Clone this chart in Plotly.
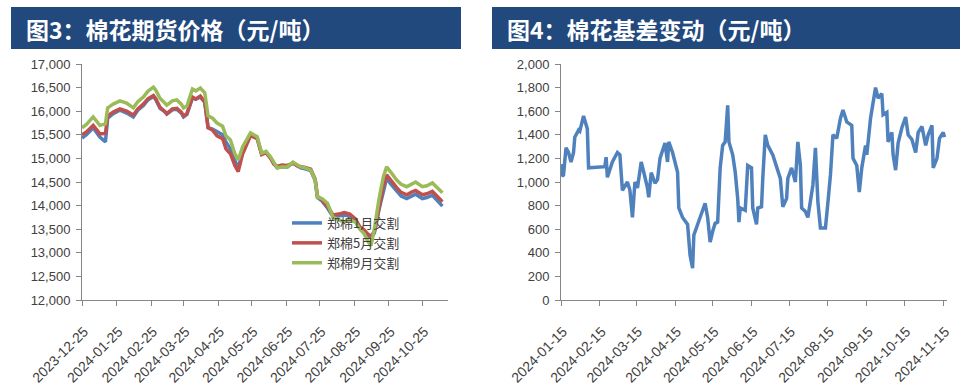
import plotly.graph_objects as go

W, H = 976, 385

# ---------------- data: 棉花期货价格 ----------------
price_dates = [
    "2023-12-25", "2023-12-29", "2024-01-04", "2024-01-07", "2024-01-10", "2024-01-15", "2024-01-17", "2024-01-22", "2024-01-28",
    "2024-02-03", "2024-02-09", "2024-02-13", "2024-02-18", "2024-02-22", "2024-02-27", "2024-02-29",
    "2024-03-04", "2024-03-08", "2024-03-10", "2024-03-15", "2024-03-19", "2024-03-23", "2024-03-25", "2024-03-28", "2024-03-31",
    "2024-04-02", "2024-04-05", "2024-04-09", "2024-04-13", "2024-04-16", "2024-04-20", "2024-04-24", "2024-04-29",
    "2024-05-02", "2024-05-06", "2024-05-10", "2024-05-13", "2024-05-17", "2024-05-24", "2024-05-30",
    "2024-06-03", "2024-06-07", "2024-06-11", "2024-06-14", "2024-06-17", "2024-06-21", "2024-06-26",
    "2024-07-01", "2024-07-05", "2024-07-08", "2024-07-12", "2024-07-17", "2024-07-21", "2024-07-23", "2024-07-27",
    "2024-08-01", "2024-08-06", "2024-08-11", "2024-08-16", "2024-08-21", "2024-08-26", "2024-08-30",
    "2024-09-03", "2024-09-06", "2024-09-09", "2024-09-12", "2024-09-16", "2024-09-20", "2024-09-23", "2024-09-27",
    "2024-10-02", "2024-10-06", "2024-10-11", "2024-10-15", "2024-10-19", "2024-10-25", "2024-10-29",
    "2024-11-03", "2024-11-07", "2024-11-12",
]
zc_jan = [  # 郑棉1月交割
    15430, 15500, 15650, 15560, 15450, 15350, 15850, 15950, 16020,
    15960, 15880, 16020, 16120, 16240, 16310, 16250,
    16060, 15990, 15940, 16030, 16040, 15960, 15880, 15930, 16170,
    16280, 16250, 16300, 16190, 15650, 15620, 15560, 15500,
    15350, 15200, 14950, 14800, 15150, 15500, 15430,
    15090, 15130, 15010, 14880, 14800, 14820, 14820,
    14900, 14830, 14800, 14780, 14740, 14530, 14170, 14100,
    13950, 13760, 13780, 13800, 13780, 13680, 13520,
    13450, 13380, 13320, 13420, 13900, 14330, 14580, 14450,
    14300, 14200, 14150, 14200, 14240, 14150, 14170,
    14220, 14120, 13990,
]
zc_may = [  # 郑棉5月交割
    15500, 15560, 15700, 15620, 15520, 15530, 15900, 15980, 16050,
    16000, 15920, 16050, 16150, 16260, 16330, 16270,
    16080, 16000, 15950, 16050, 16060, 15980, 15900, 15950, 16180,
    16300, 16260, 16320, 16200, 15650, 15600, 15480, 15420,
    15200, 15100, 14850, 14720, 15100, 15480, 15420,
    15080, 15120, 15000, 14880, 14830, 14860, 14850,
    14900, 14840, 14830, 14810, 14770, 14560, 14200, 14120,
    13980, 13800, 13820, 13850, 13820, 13720, 13550,
    13480, 13400, 13350, 13450, 13950, 14400, 14650, 14520,
    14380, 14280, 14230, 14280, 14320, 14230, 14250,
    14300, 14200, 14080,
]
zc_sep = [  # 郑棉9月交割
    15650, 15720, 15880, 15800, 15700, 15730, 16070, 16150, 16220,
    16170, 16070, 16200, 16300, 16420, 16510, 16450,
    16270, 16180, 16130, 16220, 16240, 16150, 16070, 16110, 16350,
    16470, 16430, 16490, 16390, 15900, 15850, 15750, 15680,
    15480, 15390, 15100, 14970, 15250, 15540, 15460,
    15110, 15150, 15030, 14900, 14800, 14820, 14820,
    14920, 14850, 14820, 14800, 14750, 14540, 14180, 14150,
    14050, 13750, 13700, 13650, 13700, 13650, 13500,
    13400, 13250, 13150, 13500, 14120, 14600, 14820, 14700,
    14540, 14450, 14400, 14450, 14500, 14400, 14420,
    14480, 14380, 14270,
]
price_names = ["郑棉1月交割", "郑棉5月交割", "郑棉9月交割"]
price_ticks = ["2023-12-25", "2024-01-25", "2024-02-25", "2024-03-25", "2024-04-25", "2024-05-25",
               "2024-06-25", "2024-07-25", "2024-08-25", "2024-09-25", "2024-10-25"]

# ---------------- data: 棉花基差 ----------------
basis_dates = [
    "2024-01-15", "2024-01-16", "2024-01-17", "2024-01-19", "2024-01-21", "2024-01-23", "2024-01-25", "2024-01-26",
    "2024-01-29", "2024-01-30", "2024-02-02", "2024-02-05", "2024-02-06", "2024-02-19", "2024-02-20", "2024-02-21",
    "2024-02-25", "2024-02-29", "2024-03-02", "2024-03-04", "2024-03-08", "2024-03-10", "2024-03-12", "2024-03-14",
    "2024-03-16", "2024-03-19", "2024-03-21", "2024-03-24", "2024-03-25", "2024-03-27", "2024-03-30", "2024-04-01",
    "2024-04-03", "2024-04-07", "2024-04-09", "2024-04-10", "2024-04-13", "2024-04-17", "2024-04-18", "2024-04-21",
    "2024-04-25", "2024-04-27", "2024-04-29", "2024-04-30", "2024-05-03", "2024-05-07", "2024-05-09", "2024-05-11",
    "2024-05-13", "2024-05-15", "2024-05-17", "2024-05-19", "2024-05-21", "2024-05-23", "2024-05-25", "2024-05-27",
    "2024-05-28", "2024-05-31", "2024-06-02", "2024-06-04", "2024-06-05", "2024-06-06", "2024-06-10", "2024-06-12",
    "2024-06-15", "2024-06-16", "2024-06-19", "2024-06-20", "2024-06-23", "2024-06-24", "2024-06-26", "2024-06-28",
    "2024-07-02", "2024-07-08", "2024-07-10", "2024-07-13", "2024-07-14", "2024-07-17", "2024-07-20", "2024-07-22",
    "2024-07-24", "2024-07-25", "2024-07-28", "2024-07-30", "2024-08-01", "2024-08-03", "2024-08-05", "2024-08-06",
    "2024-08-07", "2024-08-09", "2024-08-13", "2024-08-15", "2024-08-17", "2024-08-19", "2024-08-22", "2024-08-25",
    "2024-08-27", "2024-08-30", "2024-09-03", "2024-09-04", "2024-09-07", "2024-09-09", "2024-09-11", "2024-09-14",
    "2024-09-15", "2024-09-18", "2024-09-20", "2024-09-22", "2024-09-24", "2024-09-27", "2024-09-28", "2024-10-01",
    "2024-10-02", "2024-10-05", "2024-10-06", "2024-10-08", "2024-10-10", "2024-10-13", "2024-10-16", "2024-10-18",
    "2024-10-21", "2024-10-24", "2024-10-26", "2024-10-29", "2024-11-01", "2024-11-03", "2024-11-06", "2024-11-07",
    "2024-11-10", "2024-11-12", "2024-11-15", "2024-11-16",
]
basis_values = [
    1150, 1050, 1060, 1290, 1250, 1170, 1250, 1380,
    1440, 1430, 1560, 1450, 1120, 1130, 1210, 1040,
    1170, 1250, 1230, 930, 1000, 930, 700, 1000,
    950, 1170, 1085, 950, 870, 1080, 990, 1020,
    1200, 1330, 1170, 1340, 1250, 1085, 780, 700,
    640, 380, 270, 550, 640, 750, 820, 700,
    490, 580, 650, 660, 1120, 1310, 1340, 1650,
    1340, 1230, 1085, 860, 660, 780, 760, 1140,
    1120, 780, 640, 780, 790, 1030, 1400, 1310,
    1230, 1030, 790, 860, 1030, 1120, 1000, 1340,
    1140, 780, 750, 700, 860, 975, 1290, 1060,
    830, 610, 610, 830, 1060, 1400, 1370, 1540,
    1610, 1510, 1480, 1200, 1140, 915, 1120, 1310,
    1230, 1540, 1680, 1800, 1710, 1750, 1570, 1590,
    1340, 1420, 1230, 1100, 1330, 1460, 1550, 1400,
    1360, 1250, 1420, 1470, 1310, 1400, 1480, 1120,
    1200, 1370, 1420, 1380,
]
basis_ticks = ["2024-01-15", "2024-02-15", "2024-03-15", "2024-04-15", "2024-05-15", "2024-06-15",
               "2024-07-15", "2024-08-15", "2024-09-15", "2024-10-15", "2024-11-15"]

titles = ["图3：棉花期货价格（元/吨）", "图4：棉花基差变动（元/吨）"]

# ---------------- styles ----------------
BLUE, RED, GREEN = "#4F81BD", "#C0504D", "#9BBB59"
BAR = "#22497E"
AXIS = "#868686"
TXT = "#404040"
FONT = "Liberation Sans, Arial, sans-serif"

def px_x(p):
    return p / W

def px_y(p):
    return 1 - p / H

fig = go.Figure()
for vals, name, col in zip([zc_jan, zc_may, zc_sep], price_names, [BLUE, RED, GREEN]):
    fig.add_trace(go.Scatter(x=price_dates, y=vals, name=name, mode="lines",
                             line=dict(color=col, width=3.5), xaxis="x", yaxis="y"))
fig.add_trace(go.Scatter(x=basis_dates, y=basis_values, name="基差", mode="lines", showlegend=False,
                         line=dict(color=BLUE, width=3.5), xaxis="x2", yaxis="y2"))

ydom = [px_y(300), px_y(64)]
common_axis = dict(showgrid=False, zeroline=False, showline=True, linecolor=AXIS, linewidth=1,
                   ticks="outside", ticklen=5, tickcolor=AXIS, automargin=False)
xstyle = dict(type="date", tickangle=-45, ticklabelstandoff=12, ticklabelshift=2,
              tickfont=dict(family=FONT, size=14, color=TXT), **common_axis)
ystyle = dict(tickformat=",d", ticklabelstandoff=3,
              tickfont=dict(family=FONT, size=13, color=TXT), **common_axis)

fig.update_layout(
    width=W, height=H,
    margin=dict(l=0, r=0, t=0, b=0, autoexpand=False),
    paper_bgcolor="white", plot_bgcolor="white",
    xaxis=dict(domain=[px_x(82), px_x(448)], anchor="y",
               range=["2023-12-25", "2024-11-17"], tickvals=price_ticks, ticktext=price_ticks, **xstyle),
    yaxis=dict(domain=ydom, anchor="x", range=[12000, 17000], dtick=500, **ystyle),
    xaxis2=dict(domain=[px_x(561), px_x(947)], anchor="y2",
                range=["2024-01-15", "2024-11-18"], tickvals=basis_ticks, ticktext=basis_ticks, **xstyle),
    yaxis2=dict(domain=ydom, anchor="x2", range=[0, 2000], dtick=200, **ystyle),
    legend=dict(x=px_x(287), y=px_y(208), xanchor="left", yanchor="top",
                bgcolor="rgba(0,0,0,0)", borderwidth=0,
                font=dict(family="Noto Sans CJK SC", size=13, color=TXT)),
    showlegend=True,
)

# title bars
bars = [(11, 461, 24), (492, 960, 505)]
for (x0, x1, tx), t in zip(bars, titles):
    fig.add_shape(type="rect", xref="paper", yref="paper",
                  x0=px_x(x0), x1=px_x(x1), y0=px_y(49), y1=px_y(7),
                  fillcolor=BAR, line=dict(width=0), layer="below")
    fig.add_annotation(xref="paper", yref="paper", x=px_x(tx), y=px_y(29),
                       xanchor="left", yanchor="middle", showarrow=False, text=t,
                       font=dict(family="Noto Sans CJK SC", size=23, color="white", weight="bold"))

fig.write_html("out.html", config={"displayModeBar": False},
               post_script="document.body.style.margin='0';document.body.style.overflow='hidden';")
